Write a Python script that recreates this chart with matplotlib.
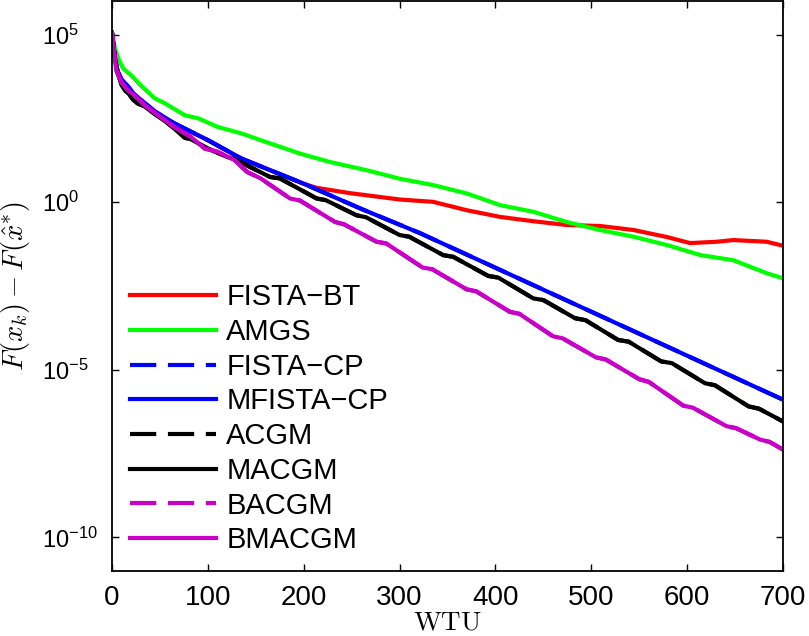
import numpy as np
import matplotlib
matplotlib.use("Agg")
import matplotlib.pyplot as plt

# ---- data (x in WTU, y given as log10 of F(x_k)-F(x*)) ----
mfista_cp_x = [0, 3, 6, 10, 16.7, 22, 30.5, 45, 65, 100, 135, 200, 260, 321, 700]
mfista_cp_log = [5.05, 4.3, 3.9, 3.65, 3.45, 3.25, 3.04, 2.7, 2.35, 1.85, 1.30, 0.55, -0.2, -0.92, -5.89]
fista_cp_x = mfista_cp_x
fista_cp_log = mfista_cp_log

fista_bt_x = [0, 3, 6, 10, 16.7, 22, 30.5, 45, 65, 100, 135, 200, 213, 248, 300, 335, 370, 405,
              440, 474, 509, 544, 579, 603, 631, 648, 683, 700]
fista_bt_log = [5.05, 4.3, 3.9, 3.65, 3.45, 3.25, 3.04, 2.7, 2.35, 1.85, 1.30, 0.55, 0.43, 0.27, 0.08,
                0.01, -0.24, -0.44, -0.57, -0.68, -0.71, -0.83, -1.04, -1.22, -1.18, -1.13, -1.18, -1.30]

amgs_x = [0, 2.8, 7, 11.5, 20, 30, 44.5, 55, 76, 90, 110.5, 135, 160, 196, 227, 266, 300, 335, 370,
          405, 440, 474, 509, 544, 579, 614, 648, 683, 700]
amgs_log = [5.05, 4.62, 4.25, 3.99, 3.78, 3.48, 3.1, 2.95, 2.59, 2.5, 2.24, 2.05, 1.8, 1.45, 1.2, 0.95,
            0.70, 0.51, 0.26, -0.09, -0.29, -0.59, -0.83, -1.03, -1.28, -1.58, -1.73, -2.12, -2.27]

macgm_x = [0, 3, 6, 10, 14, 17, 22, 27, 34, 45, 55, 65, 76, 82, 100, 120, 126, 133.5, 165, 175,
           213.5, 223, 255, 265, 300, 310, 345.6, 356, 392.5, 403, 439.5, 450, 483, 494, 528, 539,
           573, 584, 618.6, 629, 664, 675, 700]
macgm_log = [5.05, 4.3, 3.85, 3.5, 3.32, 3.25, 3.05, 2.94, 2.86, 2.62, 2.42, 2.2, 1.92, 1.88, 1.6,
             1.35, 1.3, 1.2, 0.75, 0.71, 0.11, 0.06, -0.39, -0.45, -0.98, -1.03, -1.58, -1.63, -2.2,
             -2.25, -2.87, -2.92, -3.46, -3.52, -4.11, -4.16, -4.75, -4.80, -5.4, -5.46, -6.09,
             -6.16, -6.54]
acgm_x = macgm_x
acgm_log = macgm_log

bmacgm_x = [0, 2, 4.5, 9.7, 16.7, 23.6, 34, 48, 65, 82.6, 96.6, 110.5, 128, 133.5, 141, 155, 185.7,
            196, 232.6, 242, 276, 286, 324, 334, 370, 380, 415, 425, 460, 470, 505, 515, 550, 560,
            596, 606, 641, 651, 676, 686, 700]
bmacgm_log = [5.05, 4.5, 3.93, 3.58, 3.33, 3.18, 2.89, 2.59, 2.24, 1.94, 1.6, 1.5, 1.25, 1.1, 0.9,
              0.71, 0.11, 0.05, -0.59, -0.66, -1.18, -1.23, -1.95, -2.0, -2.6, -2.66, -3.27, -3.33,
              -4.0, -4.06, -4.63, -4.69, -5.28, -5.36, -6.07, -6.13, -6.68, -6.74, -7.08, -7.15, -7.38]
bacgm_x = bmacgm_x
bacgm_log = bmacgm_log

x_ticks = [0, 100, 200, 300, 400, 500, 600, 700]
y_tick_exps = [5, 0, -5, -10]

plt.rcParams['font.family'] = ['Liberation Sans', 'DejaVu Sans']
plt.rcParams['mathtext.fontset'] = 'custom'
plt.rcParams['mathtext.rm'] = 'Liberation Sans'
plt.rcParams['mathtext.it'] = 'Liberation Sans:italic'
plt.rcParams['mathtext.bf'] = 'Liberation Sans:bold'
plt.rcParams['axes.unicode_minus'] = True

fig = plt.figure(figsize=(8.09, 6.36), dpi=100)
ax = fig.add_axes([112/809, 1 - 571/636, (783 - 112)/809, (571 - 1)/636])

lw = 3.0
dash = (0, (6.3, 2.8))
red = '#ff0000'
green = '#00ff00'
blue = '#0000ff'
black = '#000000'
mag = '#c800c8'

series = [
    ("FISTA\u2212BT", fista_bt_x, fista_bt_log, red, '-'),
    ("AMGS", amgs_x, amgs_log, green, '-'),
    ("FISTA\u2212CP", fista_cp_x, fista_cp_log, blue, dash),
    ("MFISTA\u2212CP", mfista_cp_x, mfista_cp_log, blue, '-'),
    ("ACGM", acgm_x, acgm_log, black, dash),
    ("MACGM", macgm_x, macgm_log, black, '-'),
    ("BACGM", bacgm_x, bacgm_log, mag, dash),
    ("BMACGM", bmacgm_x, bmacgm_log, mag, '-'),
]
for label, xs, ls_, c, style in series:
    ax.plot(xs, 10.0 ** np.asarray(ls_), color=c, lw=lw, ls=style, label=label)

ax.set_yscale('log')
ax.set_xlim(0, 700)
ax.set_ylim(1e-11, 1e6)
ax.set_xticks(x_ticks)
ax.set_xticklabels([str(v) for v in x_ticks])
ax.set_yticks([10.0 ** e for e in y_tick_exps])
ax.set_yticklabels([r'$10^{%d}$' % e for e in y_tick_exps])
ax.yaxis.set_minor_locator(matplotlib.ticker.NullLocator())
ax.tick_params(direction='in', length=5, width=1.0, top=True, right=True)
ax.tick_params(axis='x', labelsize=20, pad=10)
ax.tick_params(axis='y', labelsize=17, pad=50.5)
for lbl in ax.get_yticklabels():
    lbl.set_horizontalalignment('left')
for s in ax.spines.values():
    s.set_linewidth(1.3)

xl = ax.set_xlabel(r'$\mathrm{WTU}$', fontsize=19.5, math_fontfamily='cm')
xl.set_verticalalignment('bottom')
ax.xaxis.set_label_coords(0.5, (571 - 636) / 570)
ax.set_ylabel(r'$F(x_k) - F(\hat{x}^{*})$', fontsize=20.5, math_fontfamily='cm', labelpad=7)

leg = ax.legend(loc='center left', bbox_to_anchor=(0.0, 0.267), frameon=False, fontsize=21,
                handlelength=2.98, handletextpad=0.34, labelspacing=0.23, borderaxespad=0.2)

fig.savefig('out.png', dpi=100)
